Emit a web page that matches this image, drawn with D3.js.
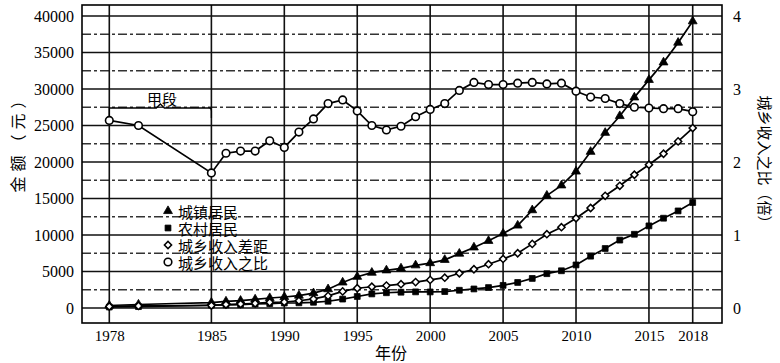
<!DOCTYPE html>
<html>
<head>
<meta charset="utf-8">
<script src="https://cdn.jsdelivr.net/npm/d3@7"></script>
<style>
  body { margin: 0; background: #fff; }
  svg text { fill: #000; }
  .num { font-family: "Liberation Serif", "DejaVu Serif", serif; }
  .cjk { font-family: "Noto Sans CJK SC", sans-serif; }
</style>
</head>
<body>
<svg id="chart" width="780" height="363"></svg>
<script>
// data
var years = [1978, 1980, 1985, 1986, 1987, 1988, 1989, 1990, 1991, 1992, 1993, 1994,
  1995, 1996, 1997, 1998, 1999, 2000, 2001, 2002, 2003, 2004, 2005, 2006,
  2007, 2008, 2009, 2010, 2011, 2012, 2013, 2014, 2015, 2016, 2017, 2018];

// 城镇居民 (元)
var urban = [340, 480, 740, 900, 1000, 1180, 1370, 1510, 1700, 2030, 2580, 3500,
  4280, 4840, 5160, 5430, 5850, 6150, 6600, 7450, 8300, 9200, 10200, 11300,
  13400, 15400, 16800, 18700, 21400, 24000, 26300, 28850, 31250, 33650, 36350, 39280];

// 农村居民 (元)
var rural = [134, 191, 398, 424, 463, 545, 602, 686, 709, 784, 922, 1221,
  1578, 1926, 2090, 2162, 2210, 2200, 2250, 2430, 2610, 2800, 3100, 3500,
  4050, 4700, 5100, 5900, 7100, 8150, 9300, 10100, 11250, 12300, 13300, 14450];

// 城乡收入差距 (元)
var gap = [209, 287, 341, 476, 539, 635, 772, 824, 992, 1243, 1655, 2275,
  2705, 2913, 3070, 3263, 3550, 3850, 4150, 4760, 5310, 6000, 6720, 7500,
  8780, 10110, 11070, 12300, 13700, 15370, 16740, 18250, 19620, 21130, 22820, 24650];

// 城乡收入之比 (倍)
var ratio = [2.57, 2.50, 1.85, 2.12, 2.15, 2.15, 2.29, 2.20, 2.41, 2.59, 2.80, 2.85,
  2.70, 2.50, 2.44, 2.49, 2.62, 2.72, 2.80, 2.98, 3.09, 3.06, 3.06, 3.08,
  3.09, 3.07, 3.08, 2.97, 2.89, 2.87, 2.80, 2.75, 2.74, 2.73, 2.73, 2.69];

var xTicks = [1978, 1985, 1990, 1995, 2000, 2005, 2010, 2015, 2018];
var leftTicks = [0, 5000, 10000, 15000, 20000, 25000, 30000, 35000, 40000];
var midLines = [2500, 7500, 12500, 17500, 22500, 27500, 32500, 37500];
var rightTicks = [0, 1, 2, 3, 4];
var legendLabels = ["城镇居民", "农村居民", "城乡收入差距", "城乡收入之比"];

var frame = {left: 82, right: 722, top: 5, bottom: 323};

var svg = d3.select("#chart");

var x = d3.scaleLinear().domain([1978, 2018]).range([109.3, 692.7]);
var y = d3.scaleLinear().domain([0, 40000]).range([308, 16]);
var yR = d3.scaleLinear().domain([0, 4]).range([308, 16]);

//grid - dashed half steps first, then the solid ones
svg.append("g").selectAll("line").data(midLines).enter().append("line")
  .attr("x1", frame.left).attr("x2", frame.right)
  .attr("y1", function(d){ return y(d); }).attr("y2", function(d){ return y(d); })
  .attr("stroke", "#333").attr("stroke-width", 1.3)
  .attr("stroke-dasharray", "9,3,3,3");

svg.append("g").selectAll("line").data(leftTicks).enter().append("line")
  .attr("x1", frame.left).attr("x2", frame.right)
  .attr("y1", function(d){ return y(d); }).attr("y2", function(d){ return y(d); })
  .attr("stroke", "#111").attr("stroke-width", 1.6);

svg.append("g").selectAll("line").data(xTicks).enter().append("line")
  .attr("x1", function(d){ return x(d); }).attr("x2", function(d){ return x(d); })
  .attr("y1", frame.top).attr("y2", frame.bottom)
  .attr("stroke", "#111").attr("stroke-width", 1.6);

svg.append("rect")
  .attr("x", frame.left).attr("y", frame.top)
  .attr("width", frame.right - frame.left).attr("height", frame.bottom - frame.top)
  .attr("fill", "none").attr("stroke", "#000").attr("stroke-width", 1.6);

//axes
var gl = svg.append("g").attr("class", "num")
  .attr("transform", "translate(" + frame.left + ",0)")
  .call(d3.axisLeft(y).tickValues(leftTicks).tickSize(0).tickPadding(8).tickFormat(d3.format("d")));
var gr = svg.append("g").attr("class", "num")
  .attr("transform", "translate(" + frame.right + ",0)")
  .call(d3.axisRight(yR).tickValues(rightTicks).tickSize(0).tickPadding(11).tickFormat(d3.format("d")));
var gb = svg.append("g").attr("class", "num")
  .attr("transform", "translate(0," + frame.bottom + ")")
  .call(d3.axisBottom(x).tickValues(xTicks).tickSize(0).tickPadding(7).tickFormat(d3.format("d")));

[gl, gr, gb].forEach(function(g) {
  g.select(".domain").remove();
  g.selectAll("text").attr("font-family", "Liberation Serif, serif").attr("font-size", 16);
});
gb.selectAll("text").attr("font-size", 15);

//titles
svg.append("text").attr("class", "cjk")
  .attr("transform", "translate(17,140) rotate(-90)")
  .attr("text-anchor", "middle").attr("dominant-baseline", "central")
  .attr("font-size", 16).attr("letter-spacing", 5)
  .text("金额（元）");

svg.append("text").attr("class", "cjk")
  .attr("transform", "translate(765,163) rotate(90)")
  .attr("text-anchor", "middle").attr("dominant-baseline", "central")
  .attr("font-size", 15)
  .text("城乡收入之比（倍）");

svg.append("text").attr("class", "cjk")
  .attr("x", 391).attr("y", 352)
  .attr("text-anchor", "middle").attr("dominant-baseline", "central")
  .attr("font-size", 16)
  .text("年份");

//series
var series = [
  {name: legendLabels[0], vals: urban, scale: y, sym: "tri"},
  {name: legendLabels[1], vals: rural, scale: y, sym: "sq"},
  {name: legendLabels[2], vals: gap, scale: y, sym: "dia"},
  {name: legendLabels[3], vals: ratio, scale: yR, sym: "circ"}
];

function addMarker(g, kind, cx, cy) {
  if (kind == "circ") {
    g.append("circle").attr("cx", cx).attr("cy", cy).attr("r", 3.8)
      .attr("fill", "#fff").attr("stroke", "#000").attr("stroke-width", 1.6);
  } else if (kind == "dia") {
    // square turned 45deg, not d3's tall diamond
    g.append("path")
      .attr("d", d3.symbol().type(d3.symbolSquare).size(26)())
      .attr("transform", "translate(" + cx + "," + cy + ") rotate(45)")
      .attr("fill", "#fff").attr("stroke", "#000").attr("stroke-width", 1.5);
  } else {
    var type = kind == "tri" ? d3.symbolTriangle : d3.symbolSquare;
    g.append("path")
      .attr("d", d3.symbol().type(type).size(34)())
      .attr("transform", "translate(" + cx + "," + cy + ")")
      .attr("fill", "#000")
      .attr("stroke", "#000").attr("stroke-width", 0.8);
  }
}

series.forEach(function(s) {
  var line = d3.line()
    .x(function(d, i){ return x(years[i]); })
    .y(function(d){ return s.scale(d); });
  svg.append("path").datum(s.vals)
    .attr("d", line)
    .attr("fill", "none").attr("stroke", "#000").attr("stroke-width", 1.7);
});

series.forEach(function(s) {
  var g = svg.append("g");
  s.vals.forEach(function(v, i) {
    addMarker(g, s.sym, x(years[i]), s.scale(v));
  });
});

//legend
var leg = svg.append("g");
series.forEach(function(s, i) {
  var ly = 211 + i * 17;
  addMarker(leg, s.sym, 168, ly);
  leg.append("text").attr("class", "cjk")
    .attr("x", 178).attr("y", ly)
    .attr("dominant-baseline", "central")
    .attr("font-size", 15)
    .text(s.name);
});

//甲段 brace over 1978-1985
var bx1 = x(1978), bx2 = x(1985), by = 108, bmid = (bx1 + bx2) / 2;
svg.append("path")
  .attr("d", "M" + bx1 + "," + (by + 9) + " L" + bx1 + "," + by +
    " L" + (bmid - 4) + "," + by + " L" + bmid + "," + (by - 4) +
    " L" + (bmid + 4) + "," + by + " L" + (bx2 - 2) + "," + by +
    " Q" + bx2 + "," + by + " " + bx2 + "," + (by + 3) + " L" + bx2 + "," + (by + 10))
  .attr("fill", "none").attr("stroke", "#000").attr("stroke-width", 1.3);

svg.append("text").attr("class", "cjk")
  .attr("x", 162).attr("y", 98)
  .attr("text-anchor", "middle").attr("dominant-baseline", "central")
  .attr("font-size", 15)
  .text("甲段");
</script>
</body>
</html>
